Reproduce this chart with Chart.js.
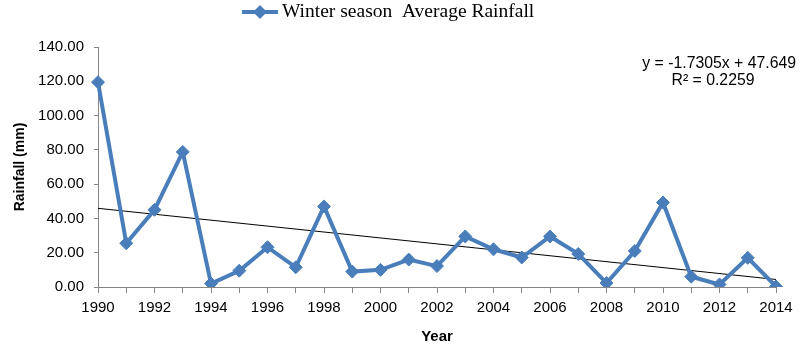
<!DOCTYPE html>
<html>
<head>
<meta charset="utf-8">
<script src="https://cdn.jsdelivr.net/npm/chart.js@4.4.1/dist/chart.umd.min.js"></script>
<style>
  html, body { margin: 0; padding: 0; background: #fff; }
  #wrap { width: 801px; height: 346px; position: relative; }
</style>
</head>
<body>
<div id="wrap"><canvas id="rainChart"></canvas></div>
<script>
// Winter season average rainfall
const years = ["1990", "1991", "1992", "1993", "1994", "1995", "1996", "1997", "1998", "1999",
               "2000", "2001", "2002", "2003", "2004", "2005", "2006", "2007", "2008", "2009",
               "2010", "2011", "2012", "2013", "2014"];
const rainfall = [119.5, 25.5, 45.0, 78.8, 2.0, 9.5, 23.2, 11.5, 47.0, 9.0,
                  10.0, 16.0, 12.2, 29.5, 22.0, 17.2, 29.5, 19.3, 2.3, 21.0,
                  49.3, 6.0, 1.5, 17.0, 0.3];
// linear trend end points (first and last year)
const trendYears = ["1990", "2014"];
const trendValues = [45.9, 4.4];
const yTicks = [0, 20, 40, 60, 80, 100, 120, 140];

const seriesLabel = "Winter season  Average Rainfall";
const equationText = "y = -1.7305x + 47.649";
const r2Text = "R\u00b2 = 0.2259";

const blue = "#4A7EBB";
const axisGrey = "#868686";

// legend (line + diamond) and trendline equation drawn on top
const overlayPlugin = {
    id: "overlay",
    afterDraw(chart) {
        const ctx = chart.ctx;
        ctx.save();
        // legend
        ctx.strokeStyle = blue;
        ctx.lineWidth = 4;
        ctx.beginPath();
        ctx.moveTo(242, 12);
        ctx.lineTo(278, 12);
        ctx.stroke();
        ctx.fillStyle = blue;
        ctx.beginPath();
        ctx.moveTo(260, 5);
        ctx.lineTo(267, 12);
        ctx.lineTo(260, 19);
        ctx.lineTo(253, 12);
        ctx.closePath();
        ctx.fill();
        ctx.fillStyle = "#000";
        ctx.font = "19.5px 'Liberation Serif', 'Times New Roman', serif";
        ctx.textBaseline = "middle";
        ctx.textAlign = "left";
        ctx.fillText(seriesLabel, 282, 12);
        // trend equation
        ctx.font = "15.8px 'Liberation Sans', Arial, sans-serif";
        ctx.textAlign = "right";
        ctx.fillText(equationText, 796, 64);
        ctx.textAlign = "center";
        ctx.fillText(r2Text, 713, 81);
        ctx.restore();
    }
};

const tickFont = { family: "'Liberation Sans', Arial, sans-serif", size: 15 };
const titleFont = { family: "'Liberation Sans', Arial, sans-serif", size: 15, weight: "bold" };

new Chart(document.getElementById("rainChart").getContext("2d"), {
    type: "line",
    data: {
        labels: years,
        datasets: [
            {
                label: seriesLabel,
                data: rainfall,
                borderColor: blue,
                backgroundColor: blue,
                borderWidth: 4,
                pointStyle: "rectRot",
                pointRadius: 6.5,
                pointBorderWidth: 1,
                tension: 0,
                fill: false
            },
            {
                label: "Trend",
                data: trendYears.map((y, i) => ({ x: y, y: trendValues[i] })),
                borderColor: "#000",
                borderWidth: 1,
                pointRadius: 0,
                tension: 0,
                fill: false
            }
        ]
    },
    options: {
        responsive: true,
        maintainAspectRatio: false,
        animation: false,
        layout: { padding: { top: 47, right: 25, left: 0, bottom: 0 } },
        plugins: {
            legend: { display: false },
            tooltip: { enabled: false }
        },
        scales: {
            x: {
                offset: false,
                grid: { display: true, drawOnChartArea: false, drawTicks: true, tickLength: 6, color: axisGrey },
                border: { color: axisGrey },
                ticks: {
                    autoSkip: false,
                    maxRotation: 0,
                    padding: 6,
                    color: "#000",
                    font: tickFont,
                    callback: function(value, index) {
                        return index % 2 === 0 ? years[index] : "";
                    }
                },
                title: { display: true, text: "Year", color: "#000", font: titleFont, padding: { top: 5, bottom: 0 } }
            },
            y: {
                min: 0,
                max: 140,
                grid: { display: true, drawOnChartArea: false, drawTicks: true, tickLength: 4, color: axisGrey },
                border: { color: axisGrey },
                afterBuildTicks: function(axis) {
                    axis.ticks = yTicks.map(v => ({ value: v }));
                },
                afterFit: function(axis) {
                    axis.width = 98;
                },
                ticks: {
                    padding: 10,
                    color: "#000",
                    font: tickFont,
                    callback: function(value) {
                        return Number(value).toFixed(2);
                    }
                },
                title: { display: true, text: "Rainfall (mm)", color: "#000", font: { family: "'Liberation Sans', Arial, sans-serif", size: 14, weight: "bold" }, padding: { top: 12, bottom: 0 } }
            }
        }
    },
    plugins: [overlayPlugin]
});
</script>
</body>
</html>
